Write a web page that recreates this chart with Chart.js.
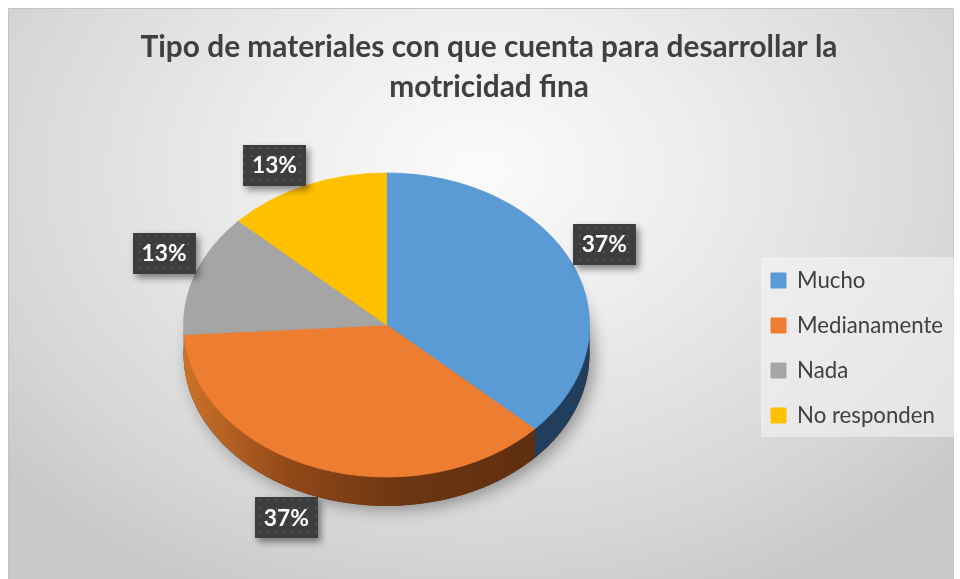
<!DOCTYPE html>
<html>
<head>
<meta charset="utf-8">
<script src="https://cdn.jsdelivr.net/npm/chart.js@4.4.1/dist/chart.umd.min.js"></script>
<style>
html,body{margin:0;padding:0;background:#fff;}
canvas{display:block;}
</style>
</head>
<body>
<canvas id="c" width="960" height="579"></canvas>
<script>
// ---- data ----
const categories = ['Mucho', 'Medianamente', 'Nada', 'No responden'];
const values = [37, 37, 13, 13];
const titleLines = ['Tipo de materiales con que cuenta para desarrollar la', 'motricidad fina'];

// ---- styles ----
const topColors = ['#5b9bd5', '#ed7d31', '#a5a5a5', '#ffc000'];
const FONT = 'Lato, "Open Sans", sans-serif';
const TEXT_COLOR = '#404040';
const SQUASH = 152 / 203;   // vertical tilt of the pie
const DEPTH = 29;           // thickness of the pie

function fitSize(text, weight, target) {
  const c = document.createElement('canvas').getContext('2d');
  c.font = weight + ' 100px ' + FONT;
  return 100 * target / c.measureText(text).width;
}
const titleSize = fitSize(titleLines[0], 'bold', 697);
const legendSize = fitSize('Medianamente', 'normal', 146);
const labelSize = fitSize('37%', 'bold', 45);
const LEGEND_PAD = 45 - legendSize;

// dotted dark pattern for data label boxes
function makePattern(ctx) {
  const p = document.createElement('canvas');
  p.width = 8; p.height = 8;
  const pc = p.getContext('2d');
  pc.fillStyle = '#3d3d3d';
  pc.fillRect(0, 0, 8, 8);
  pc.fillStyle = 'rgba(255,255,255,0.09)';
  pc.beginPath(); pc.arc(4, 4, 1.3, 0, Math.PI * 2); pc.fill();
  return ctx.createPattern(p, 'repeat');
}

function geom(chart) {
  const arc = chart.getDatasetMeta(0).data[0];
  return { cx: arc.x, cy: arc.y, rx: arc.outerRadius, ry: arc.outerRadius * SQUASH };
}

const pie3d = {
  id: 'pie3d',
  afterLayout(chart) {
    const lg = chart.legend;
    const itemH = legendSize;
    const colH = categories.length * (itemH + LEGEND_PAD);
    const y0 = 280 - itemH / 2;
    const w = lg.width;
    lg.left = 771 - LEGEND_PAD;
    lg.right = lg.left + w;
    lg.top = y0 - LEGEND_PAD;
    lg.bottom = y0 + colH + 1;
  },
  beforeDraw(chart) {
    const ctx = chart.ctx;
    ctx.save();
    ctx.fillStyle = '#ffffff';
    ctx.fillRect(0, 0, chart.width, chart.height);
    // chart frame with radial gradient
    ctx.beginPath();
    ctx.rect(9, 9, 944, 570);
    ctx.clip();
    ctx.save();
    ctx.translate(480, 170);
    ctx.scale(1, 0.75);
    const g = ctx.createRadialGradient(0, 0, 0, 0, 0, 620);
    g.addColorStop(0, '#fbfbfb');
    g.addColorStop(0.35, '#ededed');
    g.addColorStop(0.8, '#d6d6d6');
    g.addColorStop(1, '#c9c9c9');
    ctx.fillStyle = g;
    ctx.fillRect(-1000, -1000, 2000, 2000);
    ctx.restore();
    ctx.restore();
    ctx.save();
    ctx.strokeStyle = '#c4c4c4';
    ctx.lineWidth = 1;
    ctx.beginPath();
    ctx.moveTo(8.5, 579); ctx.lineTo(8.5, 8.5); ctx.lineTo(953.5, 8.5); ctx.lineTo(953.5, 579);
    ctx.stroke();
    // legend panel
    ctx.fillStyle = 'rgba(245,245,245,0.55)';
    ctx.fillRect(761, 257, 193, 180);
    ctx.restore();
  },
  beforeDatasetsDraw(chart) {
    const ctx = chart.ctx;
    const meta = chart.getDatasetMeta(0);
    const g = geom(chart);
    // soft shadow under the pie
    ctx.save();
    ctx.shadowColor = 'rgba(0,0,0,0.35)';
    ctx.shadowBlur = 16;
    ctx.shadowOffsetX = 5;
    ctx.shadowOffsetY = 4;
    ctx.fillStyle = '#5a2c0e';
    ctx.beginPath();
    ctx.ellipse(g.cx, g.cy + DEPTH, g.rx, g.ry, 0, 0, Math.PI * 2);
    ctx.fill();
    ctx.restore();
    // visible side walls (front half)
    const sideFills = [
      '#213f5c',
      (() => {
        const lg = ctx.createLinearGradient(g.cx - g.rx, 0, g.cx + g.rx * 0.8, 0);
        lg.addColorStop(0, '#cc7229');
        lg.addColorStop(0.3, '#8f4718');
        lg.addColorStop(0.6, '#6d3612');
        lg.addColorStop(1, '#5e2e0f');
        return lg;
      })(),
      '#6b6b6b',
      '#a07800'
    ];
    meta.data.forEach((arc, i) => {
      const a1 = Math.max(arc.startAngle, 0);
      const a2 = Math.min(arc.endAngle, Math.PI);
      if (a2 <= a1) return;
      ctx.save();
      ctx.beginPath();
      ctx.ellipse(g.cx, g.cy, g.rx, g.ry, 0, a1, a2, false);
      ctx.ellipse(g.cx, g.cy + DEPTH, g.rx, g.ry, 0, a2, a1, true);
      ctx.closePath();
      ctx.fillStyle = sideFills[i];
      ctx.fill();
      ctx.restore();
    });
    // tilt the top surface
    ctx.save();
    ctx.translate(0, g.cy);
    ctx.scale(1, SQUASH);
    ctx.translate(0, -g.cy);
  },
  afterDatasetsDraw(chart) {
    const ctx = chart.ctx;
    ctx.restore();
    const meta = chart.getDatasetMeta(0);
    const g = geom(chart);
    const pattern = makePattern(ctx);
    ctx.save();
    ctx.font = 'bold ' + labelSize + 'px ' + FONT;
    meta.data.forEach((arc, i) => {
      const m = (arc.startAngle + arc.endAngle) / 2;
      const c = Math.cos(m), s = Math.sin(m);
      let px = g.cx + g.rx * c;
      let py = g.cy + g.ry * s;
      if (s > 0) py += DEPTH;
      const text = values[i] + '%';
      const tw = ctx.measureText(text).width;
      const w = tw + 18, h = 41;
      const bx = px + Math.sign(c) * w / 2;
      const by = py + Math.sign(s) * h / 2;
      ctx.save();
      ctx.shadowColor = 'rgba(0,0,0,0.45)';
      ctx.shadowBlur = 7;
      ctx.shadowOffsetX = 3;
      ctx.shadowOffsetY = 4;
      ctx.fillStyle = pattern;
      ctx.fillRect(Math.round(bx - w / 2), Math.round(by - h / 2), Math.round(w), h);
      ctx.restore();
      ctx.fillStyle = '#ffffff';
      ctx.textAlign = 'center';
      ctx.textBaseline = 'middle';
      ctx.fillText(text, bx, by + 1);
    });
    ctx.restore();
  }
};

new Chart(document.getElementById('c'), {
  type: 'pie',
  data: {
    labels: categories,
    datasets: [{
      data: values,
      backgroundColor: topColors,
      borderColor: topColors,
      borderWidth: 1,
      hoverOffset: 0,
      clip: false
    }]
  },
  options: {
    responsive: false,
    devicePixelRatio: 1,
    animation: false,
    radius: 203,
    layout: { padding: { left: 18, right: 0, top: 0, bottom: 36 } },
    plugins: {
      title: {
        display: true,
        text: titleLines,
        color: TEXT_COLOR,
        font: { family: FONT, weight: 'bold', size: titleSize, lineHeight: '40px' },
        padding: { top: 27, bottom: 0 }
      },
      legend: {
        position: 'right',
        labels: {
          boxWidth: 15,
          boxHeight: 15,
          padding: LEGEND_PAD,
          color: TEXT_COLOR,
          font: { family: FONT, size: legendSize }
        }
      },
      tooltip: { enabled: false }
    }
  },
  plugins: [pie3d]
});
</script>
</body>
</html>
